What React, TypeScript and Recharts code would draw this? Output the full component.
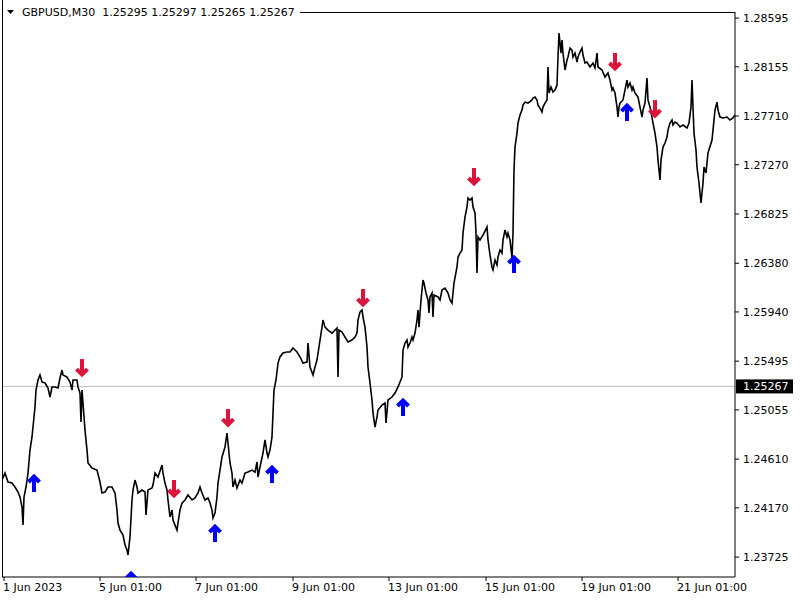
import { ComposedChart, Line, Scatter, XAxis, YAxis, ReferenceLine } from "recharts";

// bar index (one M30 bar per pixel column) and close price
const bars = [
  2, 5, 8, 12, 15, 18, 20, 22, 23, 24, 26, 28, 30, 32, 33, 35, 36, 38, 40, 42, 45, 48, 50, 52, 55, 58, 60, 62, 63, 67,
  70, 72, 73, 77, 78, 80, 81, 82, 83, 85, 87, 88, 92, 97, 100, 102, 105, 108, 112, 115, 117, 118, 120, 123, 125, 127, 128, 130, 132, 133,
  135, 137, 138, 142, 145, 146, 148, 152, 153, 155, 158, 162, 163, 165, 167, 168, 170, 172, 173, 177, 178, 180, 182, 185, 188, 192, 195, 198, 200, 202,
  205, 208, 210, 212, 213, 215, 217, 218, 220, 222, 225, 227, 228, 230, 232, 233, 235, 237, 240, 242, 245, 248, 252, 255, 257, 258, 260, 263, 265, 267,
  268, 270, 272, 273, 274, 276, 278, 280, 283, 287, 290, 293, 297, 300, 303, 307, 308, 310, 313, 315, 317, 320, 322, 323, 325, 328, 332, 335, 337, 338,
  339, 342, 345, 348, 352, 355, 357, 358, 360, 362, 363, 365, 367, 368, 370, 372, 373, 375, 377, 378, 382, 385, 386, 388, 392, 395, 398, 400, 402, 403,
  405, 407, 408, 410, 412, 413, 415, 417, 418, 419, 421, 423, 424, 426, 428, 429, 430, 432, 433, 434, 438, 440, 442, 445, 448, 450, 452, 453, 454, 457,
  458, 460, 462, 463, 465, 467, 468, 470, 472, 473, 475, 476, 477, 478, 480, 483, 487, 488, 490, 492, 493, 495, 497, 498, 500, 502, 503, 505, 507, 508,
  510, 512, 513, 514, 515, 517, 518, 520, 522, 523, 525, 528, 532, 533, 535, 537, 538, 540, 542, 543, 545, 547, 548, 549, 551, 553, 555, 557, 558, 559,
  561, 562, 563, 565, 567, 568, 570, 572, 573, 575, 577, 578, 580, 582, 583, 585, 587, 590, 593, 595, 597, 598, 602, 605, 608, 610, 612, 613, 615, 617,
  618, 619, 620, 623, 627, 628, 630, 632, 633, 635, 638, 640, 642, 643, 645, 647, 648, 650, 652, 653, 655, 657, 658, 660, 661, 663, 665, 667, 668, 670,
  672, 673, 675, 677, 680, 683, 687, 689, 691, 692, 693, 694, 696, 697, 699, 700, 701, 703, 704, 706, 708, 712, 713, 715, 717, 718, 720, 723, 727, 730,
  733, 735,
];

const closes = [
  1.24421, 1.24484, 1.24403, 1.24394, 1.24358, 1.24313, 1.24268, 1.24177, 1.24015, 1.24268, 1.24358, 1.24484, 1.24692, 1.2481, 1.249, 1.25081, 1.25234, 1.25325, 1.2537, 1.25307,
  1.25298, 1.25253, 1.25171, 1.25262, 1.25262, 1.25253, 1.25343, 1.25415, 1.2537, 1.25352,
  1.25307, 1.25234, 1.25325, 1.25325, 1.25262, 1.25207, 1.24945, 1.25234, 1.25117, 1.24873, 1.24692, 1.24575, 1.2453, 1.24511, 1.24403, 1.24304, 1.24313, 1.24358, 1.24358, 1.24304,
  1.2415, 1.24033, 1.23969, 1.23924, 1.23834, 1.23789, 1.23744, 1.23906, 1.24241, 1.24331,
  1.24421, 1.24358, 1.24304, 1.24331, 1.24313, 1.24105, 1.24331, 1.24349, 1.24376, 1.24484, 1.24448, 1.24557, 1.24484, 1.24394, 1.24331, 1.24241, 1.24087, 1.2415, 1.2406, 1.23969,
  1.24033, 1.2415, 1.24213, 1.24241, 1.24286, 1.24241, 1.24259, 1.24304, 1.24358, 1.24304,
  1.24241, 1.24259, 1.24213, 1.2415, 1.24078, 1.24123, 1.24268, 1.24394, 1.24511, 1.24629, 1.2472, 1.24846, 1.24756, 1.24575, 1.24484, 1.24358, 1.24421, 1.24349, 1.24421, 1.24394,
  1.24484, 1.24493, 1.24511, 1.24493, 1.24584, 1.24448, 1.24539, 1.24665, 1.24783, 1.24665,
  1.24629, 1.24692, 1.2481, 1.25027, 1.25234, 1.25325, 1.25478, 1.25533, 1.25569, 1.25578, 1.25578, 1.25614, 1.25578, 1.25533, 1.25478, 1.25487, 1.25659, 1.25442, 1.2537, 1.25442,
  1.25505, 1.25686, 1.25803, 1.25867, 1.25803, 1.25776, 1.25749, 1.25776, 1.25794, 1.25352,
  1.25776, 1.25758, 1.25713, 1.25668, 1.25686, 1.25713, 1.25749, 1.25867, 1.25939, 1.25957, 1.25894, 1.25803, 1.25623, 1.25442, 1.25298, 1.25144, 1.25027, 1.249, 1.2499, 1.25054,
  1.25099, 1.25117, 1.24936, 1.25144, 1.25171, 1.25207, 1.25262, 1.25307, 1.25352, 1.25596,
  1.25659, 1.25686, 1.25623, 1.25659, 1.25713, 1.25686, 1.25749, 1.25867, 1.25957, 1.25803, 1.26048, 1.26228, 1.26201, 1.26111, 1.26048, 1.2593, 1.26075, 1.26111, 1.25894, 1.26093,
  1.26075, 1.26048, 1.26138, 1.26156, 1.26111, 1.26048, 1.2602, 1.26111, 1.26201, 1.26346,
  1.26436, 1.26472, 1.26499, 1.26653, 1.26797, 1.26888, 1.26969, 1.26951, 1.26969, 1.26888, 1.26834, 1.26653, 1.26291, 1.26617, 1.2659, 1.26635, 1.26707, 1.2659, 1.26454, 1.26346,
  1.26319, 1.26409, 1.26364, 1.26436, 1.26499, 1.26472, 1.2659, 1.2668, 1.26617, 1.26653,
  1.2659, 1.26427, 1.26653, 1.27222, 1.2743, 1.27556, 1.27647, 1.27719, 1.27764, 1.27809, 1.27836, 1.27827, 1.27855, 1.27873, 1.27882, 1.27855, 1.27809, 1.27782, 1.27746, 1.27791,
  1.27827, 1.27855, 1.28153, 1.27918, 1.27972, 1.27927, 1.27945, 1.2799, 1.28243, 1.2846,
  1.28279, 1.28397, 1.28279, 1.28126, 1.28216, 1.28243, 1.28324, 1.28306, 1.28243, 1.28279, 1.28198, 1.28243, 1.28288, 1.28324, 1.28261, 1.28189, 1.28198, 1.28153, 1.28189, 1.28144,
  1.28279, 1.28153, 1.28126, 1.28062, 1.28098, 1.28035, 1.27945, 1.27963, 1.27918, 1.27791,
  1.27701, 1.27791, 1.27827, 1.27855, 1.28035, 1.27972, 1.28008, 1.27945, 1.27972, 1.27918, 1.27882, 1.27791, 1.27701, 1.27764, 1.27827, 1.28053, 1.27855, 1.27791, 1.27701, 1.27647,
  1.27556, 1.2743, 1.27312, 1.27132, 1.27312, 1.2743, 1.27466, 1.2752, 1.27583, 1.27647,
  1.27674, 1.27629, 1.27656, 1.27647, 1.27611, 1.27629, 1.27602, 1.27647, 1.27791, 1.28035, 1.27791, 1.27556, 1.27403, 1.27249, 1.27105, 1.27014, 1.26924, 1.27105, 1.27249, 1.27195,
  1.27376, 1.27493, 1.27583, 1.27764, 1.27836, 1.27764, 1.27701, 1.27692, 1.27701, 1.27674,
  1.27692, 1.27719,
];

const upBars = [34, 131, 215, 272, 403, 514, 627];
const upPrices = [1.24394, 1.23518, 1.23942, 1.24475, 1.25081, 1.26373, 1.27746];
const downBars = [82, 174, 228, 363, 474, 615, 655];
const downPrices = [1.25433, 1.2434, 1.24981, 1.26066, 1.27159, 1.28198, 1.27773];

const priceTicks = [
  1.28595, 1.28155, 1.2771, 1.2727, 1.26825, 1.2638, 1.2594, 1.25495, 1.25055, 1.2461, 1.2417, 1.23725,
];
const timeTicks = [4, 100, 196, 293, 389, 486, 582, 678];
const timeLabels = [
  "1 Jun 2023",
  "5 Jun 01:00",
  "7 Jun 01:00",
  "9 Jun 01:00",
  "13 Jun 01:00",
  "15 Jun 01:00",
  "19 Jun 01:00",
  "21 Jun 01:00",
];
const lastPrice = 1.25267;
const title = "GBPUSD,M30  1.25295 1.25297 1.25265 1.25267";

const FONT = "DejaVu Sans, sans-serif";

const priceData = bars.map((bar, i) => ({ bar, close: closes[i] }));
const upData = upBars.map((bar, i) => ({ bar, price: upPrices[i] }));
const downData = downBars.map((bar, i) => ({ bar, price: downPrices[i] }));

function Arrow({ cx, cy, up, color }: { cx?: number; cy?: number; up: boolean; color: string }) {
  if (cx == null || cy == null) return null;
  const s = up ? -1 : 1;
  return (
    <g stroke={color} strokeWidth={4} fill="none">
      <line x1={cx} y1={cy - 9 * s} x2={cx} y2={cy + 5 * s} />
      <polyline
        points={`${cx - 5.5},${cy + 1 * s} ${cx},${cy + 6.5 * s} ${cx + 5.5},${cy + 1 * s}`}
        strokeLinejoin="miter"
      />
    </g>
  );
}

function TimeTick({ x, y, payload }: any) {
  const label = timeLabels[timeTicks.indexOf(payload.value)];
  return (
    <text x={x - 1} y={y} dy="0.71em" textAnchor="start" fontSize={11} fontFamily={FONT} fill="#000">
      {label}
    </text>
  );
}

function PriceTag({ viewBox }: any) {
  if (!viewBox) return null;
  const x = viewBox.x + viewBox.width;
  const y = viewBox.y;
  return (
    <g>
      <rect x={x + 1} y={y - 7} width={57} height={14} fill="#000" />
      <text x={x + 8} y={y} dy="0.355em" fontSize={11} fontFamily={FONT} fill="#fff">
        {lastPrice.toFixed(5)}
      </text>
    </g>
  );
}

export default function App() {
  return (
    <div style={{ position: "absolute", left: 0, top: 0, width: 800, height: 600, background: "#fff" }}>
      <ComposedChart
        width={800}
        height={600}
        data={priceData}
        margin={{ top: 12, right: 0, left: 2, bottom: 0 }}
      >
        <XAxis
          dataKey="bar"
          type="number"
          domain={[2, 735]}
          allowDataOverflow
          ticks={timeTicks}
          interval={0}
          height={23}
          tickSize={4}
          tickMargin={2}
          axisLine={{ stroke: "#000" }}
          tickLine={{ stroke: "#000" }}
          tick={<TimeTick />}
        />
        <YAxis
          orientation="right"
          type="number"
          domain={[1.23545, 1.2865]}
          allowDataOverflow
          ticks={priceTicks}
          interval={0}
          width={65}
          tickSize={4}
          tickMargin={4}
          axisLine={{ stroke: "#000" }}
          tickLine={{ stroke: "#000" }}
          tickFormatter={(v: number) => v.toFixed(5)}
          tick={{ fontSize: 11, fontFamily: FONT, fill: "#000" }}
        />
        <ReferenceLine y={lastPrice} stroke="#c0c0c0" strokeWidth={1} label={<PriceTag />} />
        <Line
          dataKey="close"
          stroke="#000"
          strokeWidth={1.6}
          dot={false}
          isAnimationActive={false}
          strokeLinejoin="miter"
        />
        <Scatter
          data={upData}
          dataKey="price"
          isAnimationActive={false}
          shape={(p: any) => <Arrow cx={p.cx} cy={p.cy} up color="#0000ff" />}
        />
        <Scatter
          data={downData}
          dataKey="price"
          isAnimationActive={false}
          shape={(p: any) => <Arrow cx={p.cx} cy={p.cy} up={false} color="#dc143c" />}
        />
      </ComposedChart>
      <div style={{ position: "absolute", left: 2, top: 0, width: 1, height: 577, background: "#000" }} />
      <div style={{ position: "absolute", left: 300, top: 12, width: 435, height: 1, background: "#000" }} />
      <div
        style={{
          position: "absolute",
          left: 3,
          top: 5,
          fontFamily: FONT,
          fontSize: 11,
          color: "#000",
          whiteSpace: "pre",
          display: "flex",
          alignItems: "center",
        }}
      >
        <svg width={19} height={14}>
          <polygon points="4,5 11,5 7.5,9" fill="#000" />
        </svg>
        <span>{title}</span>
      </div>
    </div>
  );
}
